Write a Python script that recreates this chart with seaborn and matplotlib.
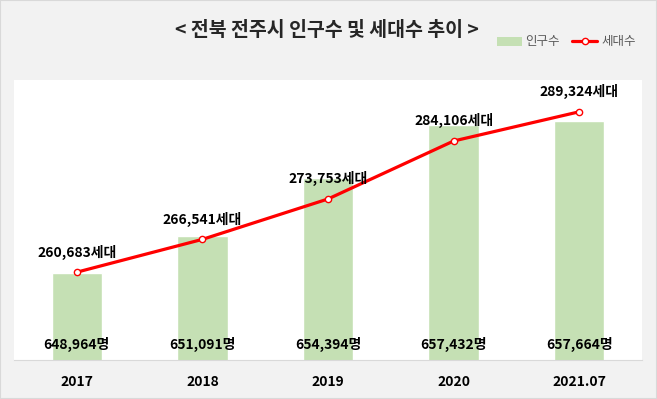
import numpy as np
import pandas as pd
import seaborn as sns
import matplotlib.pyplot as plt
from matplotlib.patches import Patch
from matplotlib.lines import Line2D
from matplotlib.transforms import blended_transform_factory

# chart data
years = ["2017", "2018", "2019", "2020", "2021.07"]
population = [648964, 651091, 654394, 657432, 657664]
households = [260683, 266541, 273753, 284106, 289324]

sns.set_style("white")
plt.rcParams['font.family'] = ['Noto Sans CJK KR', 'DejaVu Sans']

df = pd.DataFrame({"year": years, "pop": population, "house": households})

bar_color = "#c5e0b4"
line_color = "#ff0000"

fig = plt.figure(figsize=(6.57, 3.99), dpi=100, facecolor="#f2f2f2")
ax = fig.add_axes([14 / 657, 1 - 360 / 399, 628 / 657, 280 / 399])
ax.set_facecolor("white")

# bars for population
sns.barplot(data=df, x="year", y="pop", color=bar_color, width=0.4,
            saturation=1, ax=ax)
ax.set_ylim(644000, 660000)

# line for households on second axis
ax2 = ax.twinx()
sns.pointplot(data=df, x="year", y="house", color=line_color, markers="o",
              linewidth=2.3, markersize=4.5, markerfacecolor="white",
              markeredgecolor=line_color, markeredgewidth=1.0, ax=ax2)
ax2.set_ylim(245000, 295000)
ax.set_xlim(-0.5, len(years) - 0.5)

# labels
trans = blended_transform_factory(ax.transData, ax.transAxes)
for i, v in enumerate(population):
    ax.text(i, 0.057, f"{v:,}명", transform=trans, ha="center", va="center",
            fontsize=10, fontweight="bold", color="black")
for i, v in enumerate(households):
    ax2.annotate(f"{v:,}세대", xy=(i, v), xytext=(0, 14.5),
                 textcoords="offset points", ha="center", va="center",
                 fontsize=10, fontweight="bold", color="black")

for a in (ax, ax2):
    a.set_yticks([])
    a.set_ylabel("")
    a.set_xlabel("")
    for s in ["top", "left", "right"]:
        a.spines[s].set_visible(False)
    a.spines["bottom"].set_color("#d9d9d9")
ax2.spines["bottom"].set_visible(False)

ax.tick_params(axis="x", length=0, pad=11)
for lbl in ax.get_xticklabels():
    lbl.set_fontsize(10)
    lbl.set_fontweight("bold")
    lbl.set_color("black")

# title and legend
fig.text(327 / 657, 1 - 30 / 399, "< 전북 전주시 인구수 및 세대수 추이 >",
         ha="center", va="center", fontsize=14, fontweight="bold")
handles = [Patch(facecolor=bar_color, edgecolor="none"),
           Line2D([], [], color=line_color, lw=2.3, marker="o",
                  markersize=4.5, markerfacecolor="white",
                  markeredgecolor=line_color, markeredgewidth=1.0)]
fig.legend(handles, ["인구수", "세대수"], loc="center",
           bbox_to_anchor=(566 / 657, 1 - 42 / 399), ncol=2, frameon=False,
           fontsize=9, labelcolor="#595959", handlelength=2,
           handletextpad=0.3, columnspacing=1.0)

# outer border
fig.patches.append(plt.Rectangle((0, 0), 1, 1, transform=fig.transFigure,
                                 fill=False, edgecolor="#d9d9d9", lw=1.5))

fig.savefig("out.png", dpi=100, facecolor=fig.get_facecolor())
